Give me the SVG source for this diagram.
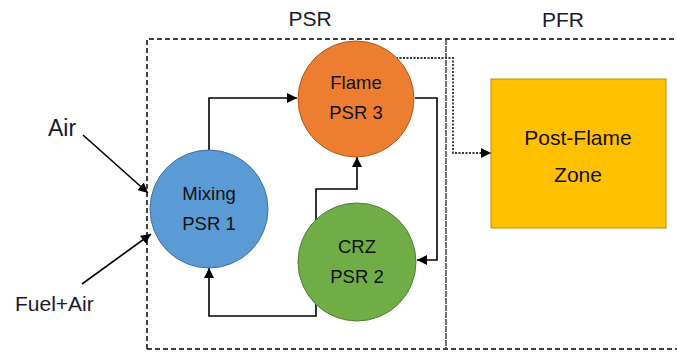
<svg xmlns="http://www.w3.org/2000/svg" width="677" height="352" viewBox="0 0 677 352">
<style>
.lbl{font-family:"Liberation Sans",Arial,sans-serif;fill:#1a1a2e;}
.nt{font-family:"Liberation Sans",Arial,sans-serif;font-size:18.5px;fill:#111;text-anchor:middle;}
.big{font-size:21px;}
.conn{fill:none;stroke:#000;stroke-width:1.6;}
.box{fill:none;stroke:#000;stroke-width:1.5;stroke-dasharray:5,3;}
</style>
<defs>
<marker id="ah" viewBox="0 0 10 10" refX="10" refY="5" markerWidth="10" markerHeight="10" markerUnits="userSpaceOnUse" orient="auto">
<path d="M0,0 L10,5 L0,10 z" fill="#000"/>
</marker>
</defs>
<g id="regions">
<path class="box" d="M147,349 V39 H677"/>
<path class="box" d="M147,349 H677"/>
<line x1="446" y1="39" x2="446" y2="349" stroke="#444" stroke-width="1.5" stroke-dasharray="6,1"/>
<text class="lbl" x="310" y="26" font-size="21" text-anchor="middle">PSR</text>
<text class="lbl" x="563" y="27" font-size="21" text-anchor="middle">PFR</text>
</g>
<g id="connectors">
<path class="conn" d="M209,150 V98 H297" marker-end="url(#ah)"/>
<path class="conn" d="M415,98 H437 V260 H417" marker-end="url(#ah)"/>
<path class="conn" d="M316,220 V189 H357 V157" marker-end="url(#ah)"/>
<path class="conn" d="M316,303 V316 H209 V268" marker-end="url(#ah)"/>
<path d="M396,58 H453 V153 H491" fill="none" stroke="#333" stroke-width="1.8" stroke-dasharray="2,1.5" marker-end="url(#ah)"/>
<path class="conn" d="M83,135 L148,193" stroke-width="1.3" marker-end="url(#ah)"/>
<path class="conn" d="M82,284 L151,234" stroke-width="1.3" marker-end="url(#ah)"/>
</g>
<g id="air"><text class="lbl" x="48" y="136" font-size="23">Air</text></g>
<g id="fuelair"><text class="lbl" x="15" y="311" font-size="21">Fuel+Air</text></g>
<g id="mixing">
<circle cx="209" cy="209" r="59" fill="#5B9BD5" stroke="#41719C" stroke-width="1"/>
<text class="nt" x="209" y="200">Mixing</text>
<text class="nt" x="209" y="230">PSR 1</text>
</g>
<g id="flame">
<circle cx="356" cy="99" r="58" fill="#ED7D31" stroke="#AE5A21" stroke-width="1"/>
<text class="nt" x="356" y="89">Flame</text>
<text class="nt" x="356" y="119">PSR 3</text>
</g>
<g id="crz">
<circle cx="357" cy="262" r="59" fill="#70AD47" stroke="#507E32" stroke-width="1"/>
<text class="nt" x="357" y="253">CRZ</text>
<text class="nt" x="357" y="283">PSR 2</text>
</g>
<g id="postflame">
<rect x="491" y="79" width="175" height="149" fill="#FFC000" stroke="#BF9000" stroke-width="1"/>
<text class="nt big" x="578" y="145">Post-Flame</text>
<text class="nt big" x="578" y="182">Zone</text>
</g>
</svg>
